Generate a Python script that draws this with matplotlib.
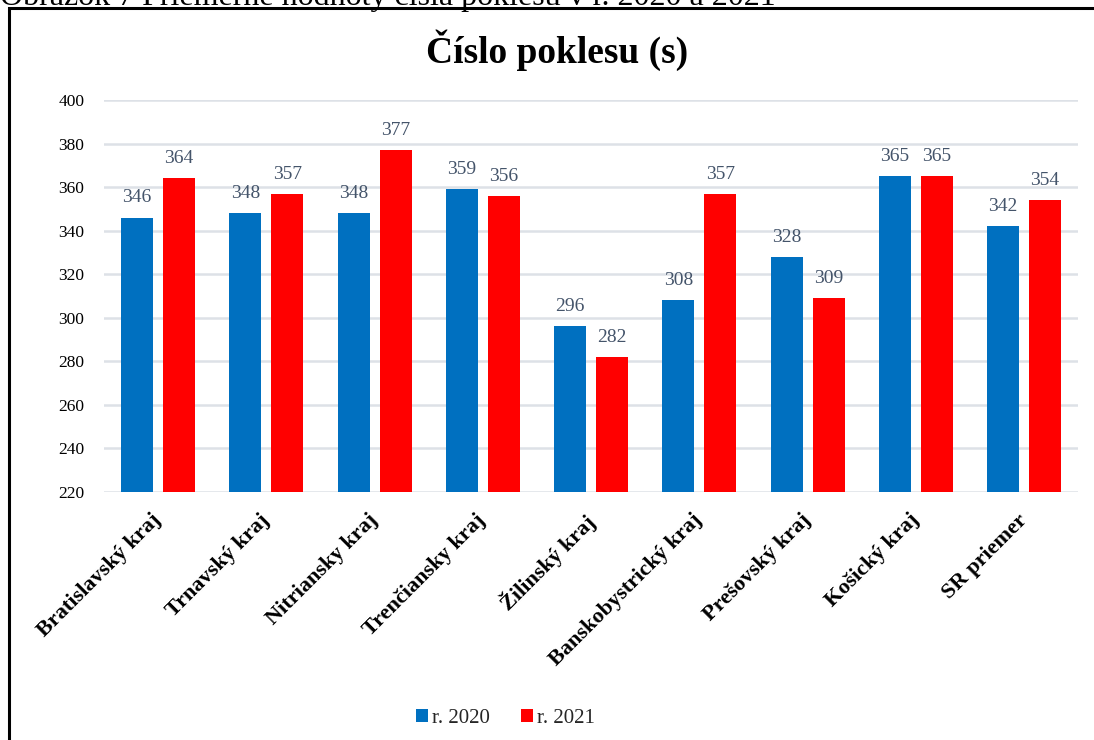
import matplotlib.pyplot as plt
import numpy as np
from matplotlib.patches import Rectangle

plt.rcParams['font.family'] = ['Liberation Serif', 'DejaVu Serif']

regions = ['Bratislavský kraj', 'Trnavský kraj', 'Nitriansky kraj',
           'Trenčiansky kraj', 'Žilinský kraj', 'Banskobystrický kraj',
           'Prešovský kraj', 'Košický kraj', 'SR priemer']
values_2020 = [346, 348, 348, 359, 296, 308, 328, 365, 342]
values_2021 = [364, 357, 377, 356, 282, 357, 309, 365, 354]
series_names = ['r. 2020', 'r. 2021']
y_ticks = [220, 240, 260, 280, 300, 320, 340, 360, 380, 400]

blue = '#0070C0'
red = '#FF0000'
label_color = '#44546A'

fig = plt.figure(figsize=(10.94, 7.4), dpi=100)
ax = fig.add_axes([0.095, 0.3351, 0.8905, 0.5298])

x = np.arange(len(regions))
w = 0.296
off = 0.194
b1 = ax.bar(x - off, np.array(values_2020) - 220, w, bottom=220, color=blue,
            label=series_names[0], zorder=3)
b2 = ax.bar(x + off, np.array(values_2021) - 220, w, bottom=220, color=red,
            label=series_names[1], zorder=3)

# value labels above each bar
for bars, vals in ((b1, values_2020), (b2, values_2021)):
    for rect, v in zip(bars, vals):
        ax.annotate(str(v), (rect.get_x() + rect.get_width() / 2, v),
                    xytext=(0, 8), textcoords='offset points',
                    ha='center', va='bottom', fontsize=14, color=label_color)

ax.set_xlim(-0.5, len(regions) - 0.5)
ax.set_ylim(220, 400)
ax.set_yticks(y_ticks)
ax.set_xticks(x)
ax.set_xticklabels([])
# category names, rotated and nudged a bit left of the tick like the original
for xi, name in zip(x, regions):
    ax.annotate(name, (xi, 220), xytext=(-5, -13), textcoords='offset points',
                rotation=45, ha='right', va='top', rotation_mode='anchor',
                fontsize=16, fontweight='bold', annotation_clip=False)
ax.tick_params(axis='y', length=0, labelsize=12.5, pad=14)
ax.tick_params(axis='x', length=0)
ax.grid(axis='y', color='#DDE1E7', linewidth=1.8, zorder=0)
for s in ax.spines.values():
    s.set_visible(False)

fig.text(0.509, 0.932, 'Číslo poklesu (s)', ha='center', va='center',
         fontsize=27, fontweight='bold')
fig.text(0.0, 0.993, 'Obrázok 7 Priemerné hodnoty čísla poklesu v r. 2020 a 2021',
         ha='left', va='baseline', fontsize=23)

fig.legend(loc='center', bbox_to_anchor=(0.462, 0.029), ncol=2, frameon=False,
           fontsize=15, handlelength=0.55, handleheight=0.55, handletextpad=0.2,
           columnspacing=1.5, labelcolor='#262626')

fig.patches.append(Rectangle((0.0085, -0.1), 1.2, 1.089, transform=fig.transFigure,
                             fill=False, edgecolor='black', linewidth=2.2))

fig.savefig('out.png', dpi=100)
